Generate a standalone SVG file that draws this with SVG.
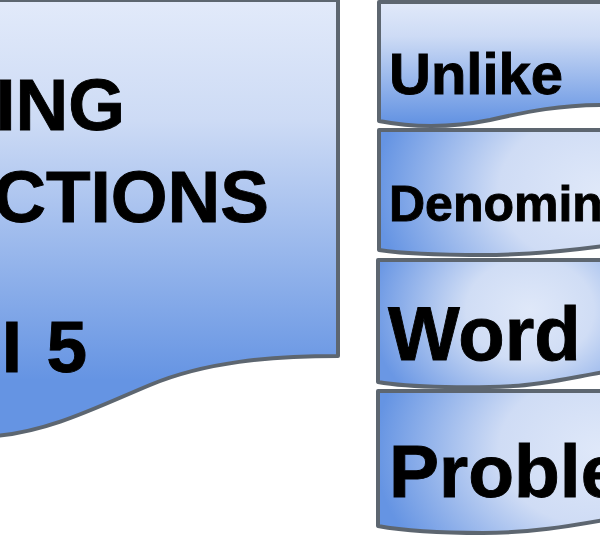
<svg xmlns="http://www.w3.org/2000/svg" width="600" height="540" viewBox="0 0 600 540">
<style>
.s{stroke:#5d6670;stroke-width:4;stroke-linejoin:round}
text{font-family:"Liberation Sans",Arial,sans-serif;font-weight:700;fill:#000;stroke:#000;stroke-width:.9}
</style>
<defs>
<linearGradient id="v" gradientUnits="userSpaceOnUse" x1="0" y1="0" x2="0" y2="400"><stop offset="0" stop-color="#e2eafa"/><stop offset="0.3" stop-color="#cddbf5"/><stop offset="0.95" stop-color="#6594e3"/></linearGradient>
<linearGradient id="u" gradientUnits="userSpaceOnUse" x1="0" y1="0" x2="0" y2="122"><stop offset="0" stop-color="#e2eafa"/><stop offset="0.3" stop-color="#cddbf5"/><stop offset="1" stop-color="#6594e3"/></linearGradient>
<radialGradient id="r2" gradientUnits="userSpaceOnUse" cx="600" cy="190" r="225" gradientTransform="translate(600 190) scale(1 .75) translate(-600 -190)"><stop offset="0" stop-color="#dfe8f9"/><stop offset="0.45" stop-color="#cfdcf5"/><stop offset="1" stop-color="#6594e3"/></radialGradient>
<radialGradient id="r3" gradientUnits="userSpaceOnUse" cx="530" cy="310" r="160" gradientTransform="translate(530 310) scale(1 .8) translate(-530 -310)"><stop offset="0" stop-color="#dfe8f9"/><stop offset="0.4" stop-color="#d0ddf5"/><stop offset="1" stop-color="#6a97e4"/></radialGradient>
<radialGradient id="r4" gradientUnits="userSpaceOnUse" cx="600" cy="450" r="225" gradientTransform="translate(600 450) scale(1 .75) translate(-600 -450)"><stop offset="0" stop-color="#dfe8f9"/><stop offset="0.45" stop-color="#cfdcf5"/><stop offset="1" stop-color="#6594e3"/></radialGradient>
</defs>
<g id="title">
<path class="s" fill="url(#v)" d="M-4 0H338V356C270 356 205 362 150 385C95 408 50 431 -4 436Z"/>
<text x="125" y="130" font-size="73" text-anchor="end">ING</text>
<text x="269" y="222" font-size="73" text-anchor="end">CTIONS</text>
<text x="87" y="372" font-size="73" text-anchor="end" word-spacing="4">I 5</text>
</g>
<g id="unlike">
<path class="s" fill="url(#u)" d="M379 2H604V105C560 105 530 111 490 120C450 128 410 127 379 121Z"/>
<text x="389" y="94" font-size="58">Unlike</text>
</g>
<g id="denominators">
<path class="s" fill="url(#r2)" d="M379 130H604V246C560 252 520 255 483 255C440 255 405 254 379 250Z"/>
<text x="389" y="221" font-size="50">Denominators</text>
</g>
<g id="word">
<path class="s" fill="url(#r3)" d="M378 260H604V372C570 378 540 385 513 386C480 388 410 388 378 382Z"/>
<text x="388" y="360" font-size="76">Word</text>
</g>
<g id="problems">
<path class="s" fill="url(#r4)" d="M378 391H604V520C570 526 530 533 483 533C440 533 405 531 378 526Z"/>
<text x="389" y="497" font-size="75">Problems</text>
</g>
</svg>
